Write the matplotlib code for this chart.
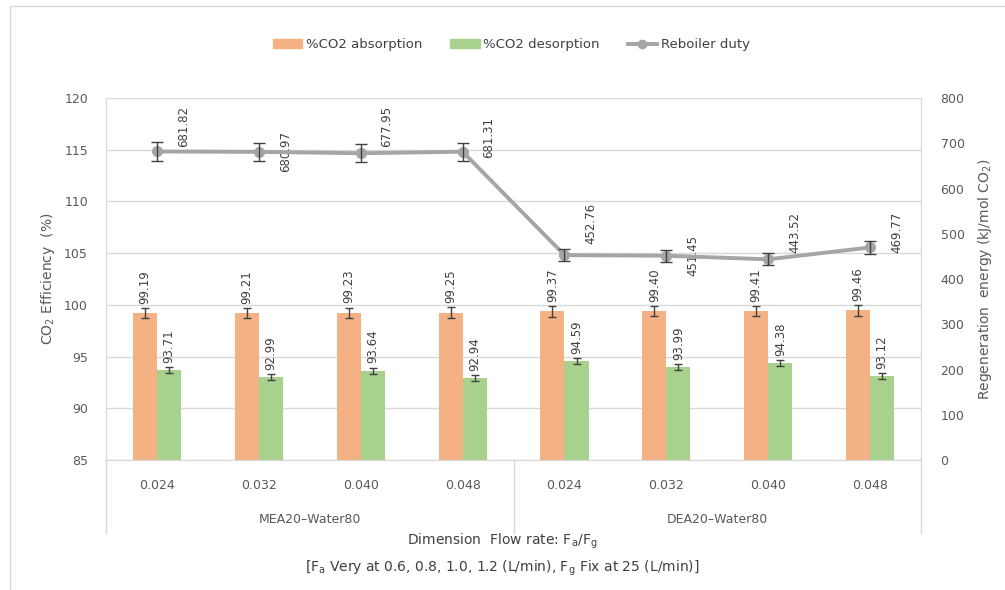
import numpy as np
import matplotlib.pyplot as plt
from matplotlib.lines import Line2D
from matplotlib.patches import Patch, Rectangle
from matplotlib.transforms import blended_transform_factory

# flow-rate ratios for the two solvent groups
flow_labels = ["0.024", "0.032", "0.040", "0.048", "0.024", "0.032", "0.040", "0.048"]
groups = ["MEA20–Water80", "DEA20–Water80"]
absorption = [99.19, 99.21, 99.23, 99.25, 99.37, 99.40, 99.41, 99.46]
desorption = [93.71, 92.99, 93.64, 92.94, 94.59, 93.99, 94.38, 93.12]
reboiler = [681.82, 680.97, 677.95, 681.31, 452.76, 451.45, 443.52, 469.77]
absorption_err = [0.5, 0.5, 0.5, 0.5, 0.5, 0.5, 0.5, 0.5]
desorption_err = [0.3, 0.3, 0.3, 0.3, 0.3, 0.3, 0.3, 0.3]
reboiler_err = [20, 20, 20, 20, 13.6, 13.5, 13.3, 14.1]

# vertical shift (points) of the reboiler labels
reb_label_dy = [18, 0, 19, 10, 23, 0, 19, 11]

c_abs = "#F4B183"
c_des = "#A9D18E"
c_line = "#A5A5A5"
c_text = "#595959"
c_grid = "#D9D9D9"

plt.rcParams["font.family"] = ["DejaVu Sans"]

fig = plt.figure(figsize=(10.05, 5.9), dpi=100)
ax = fig.add_axes([0.1055, 0.2203, 0.811, 0.6136])
ax2 = ax.twinx()

x = np.arange(len(flow_labels))
w = 0.236

ax.bar(x - w / 2, absorption, w, color=c_abs, zorder=2)
ax.bar(x + w / 2, desorption, w, color=c_des, zorder=2)
ax.errorbar(x - w / 2, absorption, yerr=absorption_err, fmt="none",
            ecolor="#404040", elinewidth=1, capsize=3, capthick=1, zorder=3)
ax.errorbar(x + w / 2, desorption, yerr=desorption_err, fmt="none",
            ecolor="#404040", elinewidth=1, capsize=3, capthick=1, zorder=3)

for xi, v, e in zip(x, absorption, absorption_err):
    ax.annotate(f"{v:.2f}", (xi - w / 2, v + e), xytext=(0, 3),
                textcoords="offset points", rotation=90, ha="center",
                va="bottom", fontsize=8.5, color="#404040")
for xi, v, e in zip(x, desorption, desorption_err):
    ax.annotate(f"{v:.2f}", (xi + w / 2, v + e), xytext=(0, 3),
                textcoords="offset points", rotation=90, ha="center",
                va="bottom", fontsize=8.5, color="#404040")

ax2.plot(x, reboiler, color=c_line, lw=2.8, marker="o", ms=7, zorder=4)
ax2.errorbar(x, reboiler, yerr=reboiler_err, fmt="none", ecolor="#404040",
             elinewidth=1, capsize=4, capthick=1, zorder=5)
for xi, v, dy in zip(x, reboiler, reb_label_dy):
    ax2.annotate(f"{v:.2f}", (xi, v), xytext=(19, dy),
                 textcoords="offset points", rotation=90, ha="center",
                 va="center", fontsize=8.5, color="#404040")

ax.set_xlim(-0.5, len(x) - 0.5)
ax.set_ylim(85, 120)
ax.set_yticks(np.arange(85, 121, 5))
ax2.set_ylim(0, 800)
ax2.set_yticks(np.arange(0, 801, 100))

ax.yaxis.grid(True, color=c_grid, lw=1)
ax.set_axisbelow(True)
ax.set_xticks(x)
ax.set_xticklabels(flow_labels)
ax.tick_params(axis="x", length=0, pad=14, labelsize=9, labelcolor=c_text)
ax.tick_params(axis="y", length=0, pad=13, labelsize=9, labelcolor=c_text)
ax2.tick_params(axis="y", length=0, pad=14, labelsize=9, labelcolor=c_text)

for a in (ax, ax2):
    a.spines["top"].set_visible(False)
    a.spines["left"].set_color(c_grid)
    a.spines["right"].set_color(c_grid)
    a.spines["bottom"].set_color(c_grid)

ax.set_ylabel("CO$_\\mathrm{2}$ Efficiency  (%)", fontsize=10, color=c_text,
              labelpad=5)
ax2.set_ylabel("Regeneration  energy (kJ/mol CO$_\\mathrm{2}$)", fontsize=10,
               color=c_text, labelpad=8)

# category group separators and group names below the axis
trans = blended_transform_factory(ax.transData, ax.transAxes)
for bx in (-0.5, 3.5, 7.5):
    ax.add_line(Line2D([bx, bx], [0, -0.202], transform=trans, color=c_grid,
                       lw=1, clip_on=False))
for gi, name in enumerate(groups):
    ax.text(gi * 4 + 1.5, -0.163, name, transform=trans, ha="center",
            va="center", fontsize=9, color=c_text)

fig.text(0.5, 0.083, "Dimension  Flow rate: F$_\\mathrm{a}$/F$_\\mathrm{g}$",
         ha="center", va="center", fontsize=10, color="#404040")
fig.text(0.5, 0.037,
         "[F$_\\mathrm{a}$ Very at 0.6, 0.8, 1.0, 1.2 (L/min), "
         "F$_\\mathrm{g}$ Fix at 25 (L/min)]",
         ha="center", va="center", fontsize=10, color="#404040")

handles = [Patch(color=c_abs, label="%CO2 absorption"),
           Patch(color=c_des, label="%CO2 desorption"),
           Line2D([], [], color=c_line, lw=2.8, marker="o", ms=6,
                  label="Reboiler duty")]
fig.legend(handles=handles, loc="center", bbox_to_anchor=(0.509, 0.924),
           ncol=3, frameon=False, fontsize=9.5, handlelength=2.2,
           handletextpad=0.3, columnspacing=2.1, labelcolor="#404040")

# chart frame
fig.add_artist(Rectangle((0.01, -0.02), 1.05, 1.01, transform=fig.transFigure,
                         fill=False, edgecolor=c_grid, lw=1))

fig.savefig("out.png", dpi=100)
